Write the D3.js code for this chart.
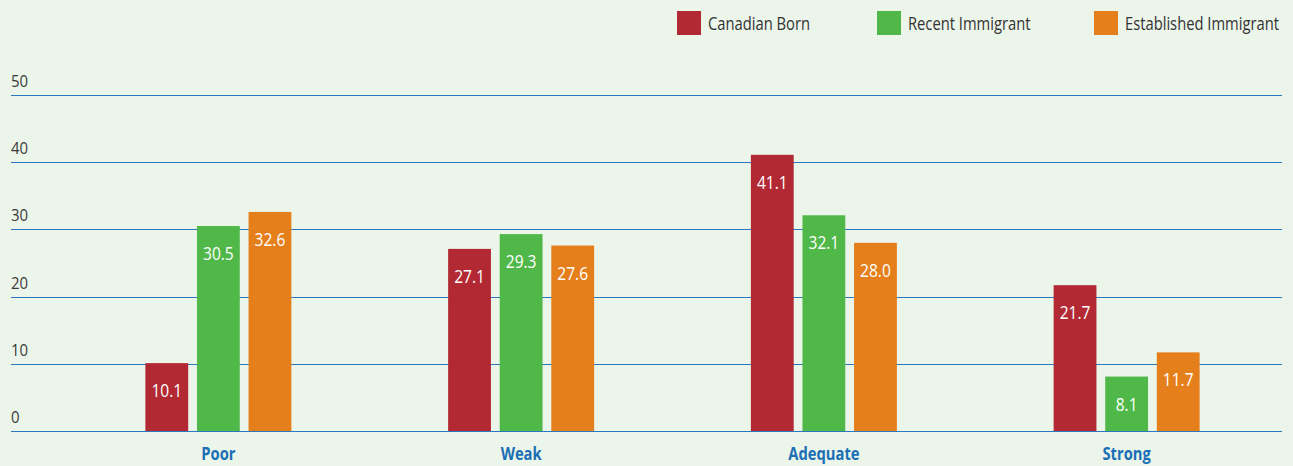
<!DOCTYPE html>
<html>
<head>
<meta charset="utf-8">
<script src="https://cdn.jsdelivr.net/npm/d3@7"></script>
<style>
  html, body { margin: 0; padding: 0; background: #ecf5ea; }
  svg { display: block; font-family: "Open Sans", "Liberation Sans", sans-serif; }
</style>
</head>
<body>
<svg id="chart" width="1293" height="466"></svg>
<script>
// data
const categories = ["Poor", "Weak", "Adequate", "Strong"];
const seriesNames = ["Canadian Born", "Recent Immigrant", "Established Immigrant"];
const canadianBorn = [10.1, 27.1, 41.1, 21.7];
const recentImmigrant = [30.5, 29.3, 32.1, 8.1];
const establishedImmigrant = [32.6, 27.6, 28.0, 11.7];
const yTicks = [0, 10, 20, 30, 40, 50];

const colors = ["#b22934", "#50b848", "#e57f1c"];

const svg = d3.select("#chart");

// the original uses a condensed face: squeeze horizontally around the anchor
const condense = (sel, k) =>
  sel.each(function () {
    const t = d3.select(this);
    const tx = +t.attr("x") || 0;
    const ty = +t.attr("y") || 0;
    t.attr("x", 0)
      .attr("y", 0)
      .attr("transform", `translate(${tx},${ty}) scale(${k},1)`);
  });

const y = d3.scaleLinear().domain([0, 50]).range([431, 95]);
const x0 = d3.scaleBand().domain(categories).range([67, 1278]).padding(0);
const x1 = d3.scaleBand().domain(seriesNames).range([0, 146]).paddingInner(0.17);

// gridlines + tick labels
const grid = svg.append("g");
grid.selectAll("line")
  .data(yTicks)
  .enter()
  .append("line")
  .attr("x1", 11)
  .attr("x2", 1282)
  .attr("y1", (d) => Math.round(y(d)) + 0.5)
  .attr("y2", (d) => Math.round(y(d)) + 0.5)
  .attr("stroke", "#2a78be")
  .attr("stroke-width", 1.2);

grid.selectAll("text")
  .data(yTicks)
  .enter()
  .append("text")
  .attr("x", 11)
  .attr("y", (d) => y(d) - 8)
  .attr("font-size", 17)
  .attr("fill", "#3a3a3a")
  .text((d) => d)
  .call(condense, 0.88);

// bars
const rows = categories.map((c, i) => ({
  cat: c,
  vals: [canadianBorn[i], recentImmigrant[i], establishedImmigrant[i]],
}));

const groups = svg.selectAll(".grp")
  .data(rows)
  .enter()
  .append("g")
  .attr("class", "grp")
  .attr("transform", (d) => `translate(${x0(d.cat) + x0.bandwidth() / 2 - 73},0)`);

const bars = groups.selectAll("g")
  .data((d) => d.vals.map((v, j) => ({ name: seriesNames[j], v: v, j: j })))
  .enter()
  .append("g");

bars.append("rect")
  .attr("x", (d) => x1(d.name))
  .attr("y", (d) => y(d.v))
  .attr("width", x1.bandwidth())
  .attr("height", (d) => y(0) - y(d.v))
  .attr("fill", (d) => colors[d.j]);

bars.append("text")
  .attr("x", (d) => x1(d.name) + x1.bandwidth() / 2)
  .attr("y", (d) => y(d.v) + 34)
  .attr("text-anchor", "middle")
  .attr("font-size", 19)
  .attr("fill", "#ffffff")
  .text((d) => d.v.toFixed(1))
  .call(condense, 0.82);

// category labels
svg.selectAll(".cat")
  .data(categories)
  .enter()
  .append("text")
  .attr("class", "cat")
  .attr("x", (d) => x0(d) + x0.bandwidth() / 2)
  .attr("y", 460)
  .attr("text-anchor", "middle")
  .attr("font-size", 18)
  .attr("font-weight", "bold")
  .attr("fill", "#1a6fb5")
  .text((d) => d)
  .call(condense, 0.82);

// legend
const legendX = [677, 877, 1094];
const legend = svg.selectAll(".leg")
  .data(seriesNames)
  .enter()
  .append("g")
  .attr("class", "leg")
  .attr("transform", (d, i) => `translate(${legendX[i]},11)`);

legend.append("rect")
  .attr("width", 24)
  .attr("height", 24)
  .attr("fill", (d, i) => colors[i]);

legend.append("text")
  .attr("x", 31)
  .attr("y", 19)
  .attr("font-size", 18)
  .attr("fill", "#333333")
  .text((d) => d)
  .call(condense, 0.82);
</script>
</body>
</html>
